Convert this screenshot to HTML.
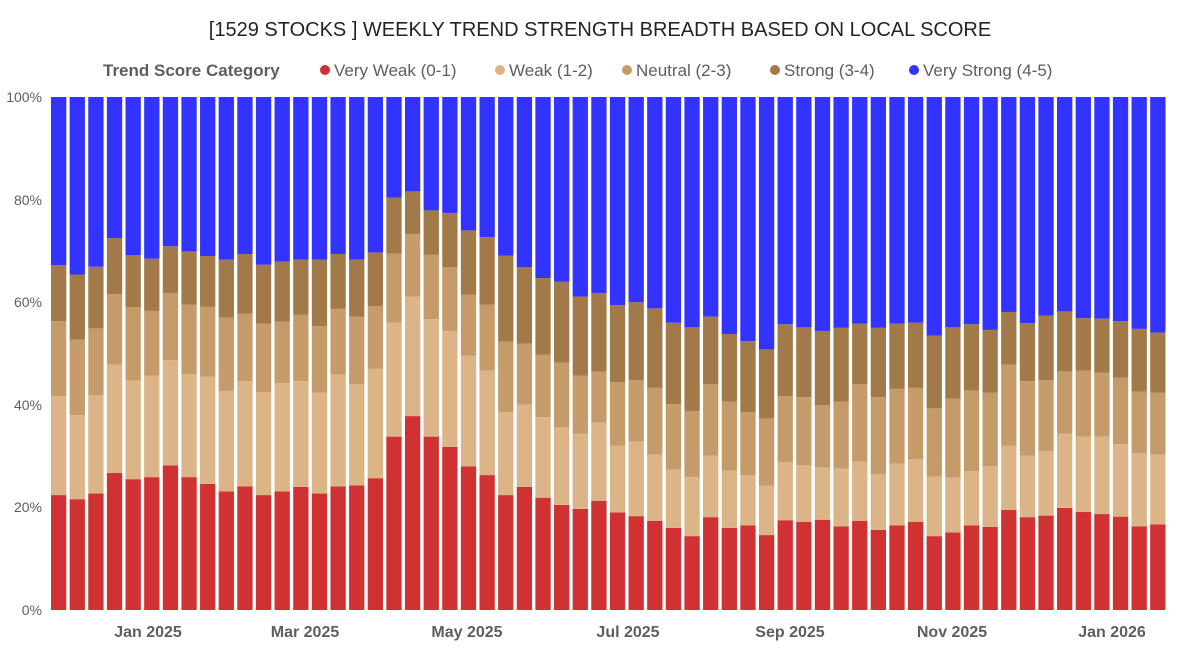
<!DOCTYPE html>
<html><head><meta charset="utf-8"><style>
body{margin:0;background:#fff;width:1200px;height:651px;overflow:hidden;font-family:"Liberation Sans",sans-serif}
</style></head><body>
<svg id="s" width="1200" height="651" xmlns="http://www.w3.org/2000/svg">
<text x="600" y="36" text-anchor="middle" font-size="20" fill="#252423" font-family="Liberation Sans">[1529 STOCKS ] WEEKLY TREND STRENGTH BREADTH BASED ON LOCAL SCORE</text>
<g font-size="17" fill="#605e5c" font-family="Liberation Sans">
<text x="103" y="76" font-weight="bold">Trend Score Category</text>
<circle cx="325" cy="70" r="5" fill="#D03234"/><text x="334" y="76">Very Weak (0-1)</text>
<circle cx="500" cy="70" r="5" fill="#DBB487"/><text x="509" y="76">Weak (1-2)</text>
<circle cx="627" cy="70" r="5" fill="#C59B6A"/><text x="636" y="76">Neutral (2-3)</text>
<circle cx="775" cy="70" r="5" fill="#A27A49"/><text x="784" y="76">Strong (3-4)</text>
<circle cx="914" cy="70" r="5" fill="#3333FF"/><text x="923" y="76">Very Strong (4-5)</text>
</g>
<g font-size="14" fill="#605e5c" text-anchor="end" font-family="Liberation Sans">
<text x="42" y="102">100%</text><text x="42" y="205">80%</text><text x="42" y="307">60%</text>
<text x="42" y="410">40%</text><text x="42" y="512">20%</text><text x="42" y="615">0%</text>
</g>
<g font-size="16" fill="#605e5c" text-anchor="middle" font-weight="bold" font-family="Liberation Sans">
<text x="148" y="637">Jan 2025</text><text x="305" y="637">Mar 2025</text><text x="467" y="637">May 2025</text>
<text x="628" y="637">Jul 2025</text><text x="790" y="637">Sep 2025</text><text x="952" y="637">Nov 2025</text>
<text x="1112" y="637">Jan 2026</text>
</g>
<g id="bars"></g>
</svg>
<script>
var d=[[22.4,41.7,56.3,67.2],[21.6,38,52.7,65.4],[22.7,41.9,54.9,66.9],[26.7,47.8,61.6,72.5],[25.5,44.7,59,69.2],[25.9,45.7,58.3,68.5],[28.2,48.7,61.8,70.9],[25.9,46,59.5,69.9],[24.6,45.5,59.1,69],[23.1,42.7,57,68.3],[24.1,44.6,57.8,69.4],[22.4,42.5,55.8,67.3],[23.1,44.2,56.2,67.9],[24,44.6,57.6,68.3],[22.7,42.4,55.3,68.3],[24.1,45.9,58.7,69.4],[24.3,44,57.2,68.3],[25.7,47,59.2,69.7],[33.8,56,69.5,80.4],[37.8,61.1,73.3,81.6],
[33.8,56.7,69.3,77.9],[31.8,54.4,66.8,77.4],[28,49.6,61.5,74],[26.3,46.7,59.5,72.7],[22.4,38.6,52.3,69.1],[24,40,51.9,66.8],[21.9,37.6,49.8,64.7],[20.5,35.6,48.2,64],[19.7,34.4,45.7,61.1],[21.3,36.5,46.5,61.8],[19,32,44.4,59.4],[18.3,32.8,44.8,60],[17.4,30.3,43.3,58.8],[16,27.4,40.1,56],[14.4,25.9,38.8,55.1],[18.1,30.1,44,57.2],[16,27.2,40.6,53.8],[16.5,26.3,38.6,52.4],[14.6,24.2,37.3,50.8],[17.5,28.8,41.7,55.7],
[17.2,28.2,41.5,55.1],[17.6,27.8,39.9,54.4],[16.3,27.6,40.6,55],[17.4,28.9,44,55.8],[15.6,26.5,41.5,55],[16.5,28.5,43.1,55.8],[17.2,29.4,43.3,56],[14.4,26,39.3,53.5],[15.1,25.8,41.2,55.1],[16.5,27.1,42.8,55.7],[16.2,28,42.4,54.6],[19.5,32,47.8,58.1],[18.1,30.1,44.6,55.9],[18.4,31,44.8,57.4],[19.9,34.4,46.5,58.2],[19.1,33.8,46.7,56.9],[18.7,33.8,46.3,56.8],[18.2,32.3,45.3,56.3],[16.3,30.6,42.6,54.8],[16.7,30.3,42.4,54.1]];
var c=["#D03234","#DBB487","#C59B6A","#A27A49","#3333FF"],h="";
function Y(p){return 610-p*5.13;}
d.forEach(function(r,i){var x=51+i*18.63,v=[0].concat(r).concat([100]);
for(var k=0;k<5;k++){var y1=Y(v[k+1]),y0=Y(v[k]);h+='<rect x="'+x.toFixed(2)+'" y="'+y1.toFixed(2)+'" width="15.3" height="'+(y0-y1).toFixed(2)+'" fill="'+c[k]+'"/>';}});
document.getElementById("bars").innerHTML=h;
</script>
</body></html>
